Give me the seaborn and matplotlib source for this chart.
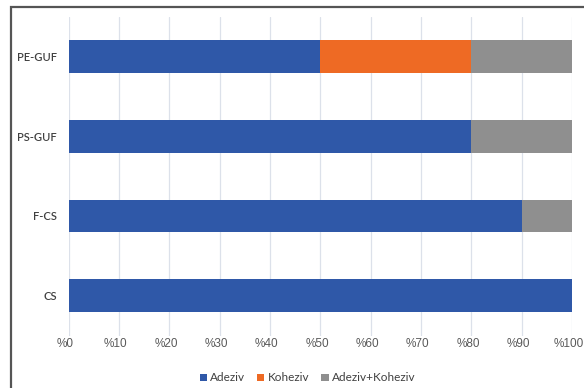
from matplotlib import pyplot as plt
from matplotlib.patches import Patch, Rectangle
from matplotlib.transforms import ScaledTranslation
import pandas as pd
import seaborn as sns

# Data (percent of failures per sample)
samples = ['PE-GUF', 'PS-GUF', 'F-CS', 'CS']
adeziv = [50, 80, 90, 100]
koheziv = [30, 0, 0, 0]
adeziv_koheziv = [20, 20, 10, 0]
series_names = ['Adeziv', 'Koheziv', 'Adeziv+Koheziv']
tick_values = list(range(0, 101, 10))
tick_labels = [f'%{v}' for v in tick_values]

colors = ['#2F58A8', '#EE6A24', '#8F8F8F']

df = pd.DataFrame({'sample': samples, 'Adeziv': adeziv,
                   'Koheziv': koheziv, 'Adeziv+Koheziv': adeziv_koheziv})
# cumulative sums so bars can be overlaid as a stack
df['c1'] = df['Adeziv']
df['c2'] = df['c1'] + df['Koheziv']
df['c3'] = df['c2'] + df['Adeziv+Koheziv']

sns.set_style('white')
plt.rcParams['font.family'] = ['Lato', 'DejaVu Sans']

fig = plt.figure(figsize=(5.84, 3.88), dpi=100)
ax = fig.add_axes([0.1173, 0.1353, 0.862, 0.8217])

# outer chart border (cut off at right and bottom like the reference)
fig.patches.append(Rectangle((11 / 584, -0.1), 2.0, 1 - 7 / 388 + 0.1,
                             transform=fig.transFigure, fill=False,
                             edgecolor='#555555', linewidth=1.6, zorder=0))

for col, c in zip(['c3', 'c2', 'c1'], colors[::-1]):
    sns.barplot(data=df, x=col, y='sample', orient='h', color=c,
                width=0.41, saturation=1, linewidth=0, ax=ax, zorder=3)

ax.set_xlim(0, 100)
ax.set_ylim(3.5, -0.5)
ax.set_xticks(tick_values)
ax.set_xticklabels(tick_labels, fontfamily='Liberation Sans')
ax.tick_params(axis='x', labelsize=8.5, labelcolor='#595959', length=0, pad=2)
ax.tick_params(axis='y', labelsize=8, labelcolor='#404040', length=0, pad=8.5)
for lbl in ax.get_yticklabels():
    lbl.set_fontweight('semibold')
ax.grid(axis='x', color='#DCE1EA', linewidth=0.9, zorder=0)
ax.set_axisbelow(True)
ax.set_xlabel('')
ax.set_ylabel('')
for s in ax.spines.values():
    s.set_visible(False)

handles = [Patch(facecolor=c, edgecolor='none') for c in colors]
fig.legend(handles, series_names, loc='center', bbox_to_anchor=(0.527, 0.026),
           ncol=3, frameon=False, fontsize=8.5, handlelength=0.6, handleheight=0.6,
           handletextpad=0.3, columnspacing=1.0, labelcolor='#404040')

# x labels sit a little left of their gridlines in the reference
fig.canvas.draw()
shift = ScaledTranslation(-3 / 100, 0, fig.dpi_scale_trans)
for lbl in ax.get_xticklabels():
    lbl.set_transform(lbl.get_transform() + shift)

fig.savefig('out.png', dpi=100)
